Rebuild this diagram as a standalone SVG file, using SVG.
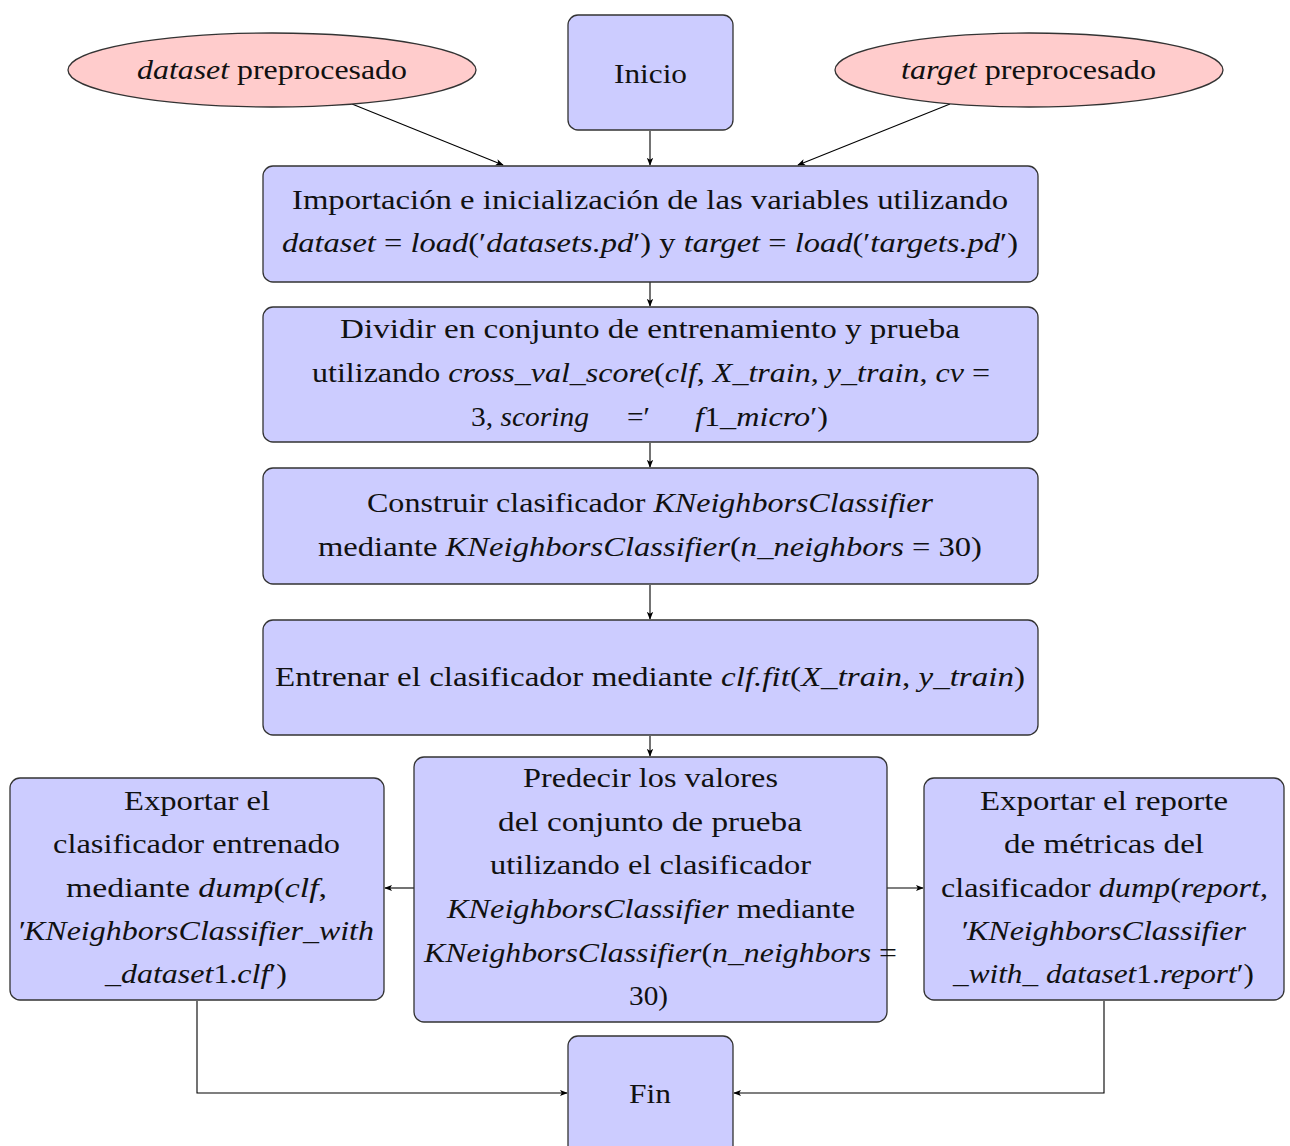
<svg xmlns="http://www.w3.org/2000/svg" width="1290" height="1146" viewBox="0 0 1290 1146">
  <defs>
    <marker id="arr" viewBox="0 0 10 10" refX="9" refY="5" markerWidth="8" markerHeight="8" markerUnits="userSpaceOnUse" orient="auto">
      <path d="M0,1 L10,5 L0,9 L2.5,5 Z" fill="#000"/>
    </marker>
  </defs>
  <style>
    .box { fill: #ccccff; stroke: #333; stroke-width: 1.3; }
    .ell { fill: #ffcccc; stroke: #333; stroke-width: 1.3; }
    .edge { fill: none; stroke: #000; stroke-width: 1.1; marker-end: url(#arr); }
    text { font-family: "Liberation Serif", "DejaVu Serif", serif; font-size: 28px; fill: #111; }
    .m { font-style: italic; }
  </style>
  <rect width="1290" height="1146" fill="#fff"/>

  <!-- connectors -->
  <g id="edges">
    <line class="edge" x1="352" y1="104" x2="503" y2="165"/>
    <line class="edge" x1="950" y1="104" x2="798" y2="165"/>
    <line class="edge" x1="650" y1="131" x2="650" y2="165"/>
    <line class="edge" x1="650" y1="282" x2="650" y2="306"/>
    <line class="edge" x1="650" y1="443" x2="650" y2="467"/>
    <line class="edge" x1="650" y1="585" x2="650" y2="619"/>
    <line class="edge" x1="650" y1="736" x2="650" y2="756"/>
    <line class="edge" x1="414" y1="888" x2="385" y2="888"/>
    <line class="edge" x1="887" y1="888" x2="923" y2="888"/>
    <polyline class="edge" points="197,1001 197,1093 567,1093"/>
    <polyline class="edge" points="1104,1001 1104,1093 734,1093"/>
  </g>

  <g id="dataset">
    <ellipse class="ell" cx="272" cy="70" rx="204" ry="37"/>
    <text x="137" y="79" textLength="270" lengthAdjust="spacingAndGlyphs"><tspan class="m">dataset</tspan> preprocesado</text>
  </g>

  <g id="target">
    <ellipse class="ell" cx="1029" cy="70" rx="194" ry="37"/>
    <text x="901" y="79" textLength="255" lengthAdjust="spacingAndGlyphs"><tspan class="m">target</tspan> preprocesado</text>
  </g>

  <g id="inicio">
    <rect class="box" x="568" y="15" width="165" height="115" rx="10"/>
    <text x="614" y="83" textLength="73" lengthAdjust="spacingAndGlyphs">Inicio</text>
  </g>

  <g id="importar">
    <rect class="box" x="263" y="166" width="775" height="116" rx="10"/>
    <text x="292" y="209" textLength="716" lengthAdjust="spacingAndGlyphs">Importación e inicialización de las variables utilizando</text>
    <text x="282" y="252" textLength="736" lengthAdjust="spacingAndGlyphs"><tspan class="m">dataset</tspan> = <tspan class="m">load</tspan>(′<tspan class="m">datasets.pd</tspan>′) y <tspan class="m">target</tspan> = <tspan class="m">load</tspan>(′<tspan class="m">targets.pd</tspan>′)</text>
  </g>

  <g id="dividir">
    <rect class="box" x="263" y="307" width="775" height="135" rx="10"/>
    <text x="340" y="338" textLength="620" lengthAdjust="spacingAndGlyphs">Dividir en conjunto de entrenamiento y prueba</text>
    <text x="312" y="382" textLength="678" lengthAdjust="spacingAndGlyphs">utilizando <tspan class="m">cross_val_score</tspan>(<tspan class="m">clf</tspan>, <tspan class="m">X_train</tspan>, <tspan class="m">y_train</tspan>, <tspan class="m">cv</tspan> =</text>
    <text x="471" y="426" textLength="118" lengthAdjust="spacingAndGlyphs">3, <tspan class="m">scoring</tspan></text>
    <text x="627" y="426" textLength="23" lengthAdjust="spacingAndGlyphs">=′</text>
    <text x="695" y="426" textLength="133" lengthAdjust="spacingAndGlyphs"><tspan class="m">f</tspan>1<tspan class="m">_micro</tspan>′)</text>
  </g>

  <g id="construir">
    <rect class="box" x="263" y="468" width="775" height="116" rx="10"/>
    <text x="367" y="512" textLength="566" lengthAdjust="spacingAndGlyphs">Construir clasificador <tspan class="m">KNeighborsClassifier</tspan></text>
    <text x="318" y="556" textLength="664" lengthAdjust="spacingAndGlyphs">mediante <tspan class="m">KNeighborsClassifier</tspan>(<tspan class="m">n_neighbors</tspan> = 30)</text>
  </g>

  <g id="entrenar">
    <rect class="box" x="263" y="620" width="775" height="115" rx="10"/>
    <text x="275" y="686" textLength="750" lengthAdjust="spacingAndGlyphs">Entrenar el clasificador mediante <tspan class="m">clf.fit</tspan>(<tspan class="m">X_train</tspan>, <tspan class="m">y_train</tspan>)</text>
  </g>

  <g id="exportar-clf">
    <rect class="box" x="10" y="778" width="374" height="222" rx="10"/>
    <text x="124" y="810" textLength="146" lengthAdjust="spacingAndGlyphs">Exportar el</text>
    <text x="53" y="853" textLength="287" lengthAdjust="spacingAndGlyphs">clasificador entrenado</text>
    <text x="66" y="897" textLength="261" lengthAdjust="spacingAndGlyphs">mediante <tspan class="m">dump</tspan>(<tspan class="m">clf</tspan>,</text>
    <text x="17" y="940" textLength="357" lengthAdjust="spacingAndGlyphs" class="m">′KNeighborsClassifier_with</text>
    <text x="105" y="983" textLength="182" lengthAdjust="spacingAndGlyphs"><tspan class="m">_dataset</tspan>1.<tspan class="m">clf</tspan>′)</text>
  </g>

  <g id="predecir">
    <rect class="box" x="414" y="757" width="473" height="265" rx="10"/>
    <text x="523" y="787" textLength="255" lengthAdjust="spacingAndGlyphs">Predecir los valores</text>
    <text x="498" y="831" textLength="304" lengthAdjust="spacingAndGlyphs">del conjunto de prueba</text>
    <text x="490" y="874" textLength="321" lengthAdjust="spacingAndGlyphs">utilizando el clasificador</text>
    <text x="447" y="918" textLength="408" lengthAdjust="spacingAndGlyphs"><tspan class="m">KNeighborsClassifier</tspan> mediante</text>
    <text x="424" y="962" textLength="473" lengthAdjust="spacingAndGlyphs"><tspan class="m">KNeighborsClassifier</tspan>(<tspan class="m">n_neighbors</tspan> =</text>
    <text x="629" y="1005" textLength="39" lengthAdjust="spacingAndGlyphs">30)</text>
  </g>

  <g id="exportar-reporte">
    <rect class="box" x="924" y="778" width="360" height="222" rx="10"/>
    <text x="980" y="810" textLength="248" lengthAdjust="spacingAndGlyphs">Exportar el reporte</text>
    <text x="1004" y="853" textLength="200" lengthAdjust="spacingAndGlyphs">de métricas del</text>
    <text x="941" y="897" textLength="327" lengthAdjust="spacingAndGlyphs">clasificador <tspan class="m">dump</tspan>(<tspan class="m">report</tspan>,</text>
    <text x="960" y="940" textLength="286" lengthAdjust="spacingAndGlyphs" class="m">′KNeighborsClassifier</text>
    <text x="953" y="983" textLength="301" lengthAdjust="spacingAndGlyphs"><tspan class="m">_with_ dataset</tspan>1.<tspan class="m">report</tspan>′)</text>
  </g>

  <g id="fin">
    <rect class="box" x="568" y="1036" width="165" height="125" rx="10"/>
    <text x="629" y="1103" textLength="42" lengthAdjust="spacingAndGlyphs">Fin</text>
  </g>
</svg>
